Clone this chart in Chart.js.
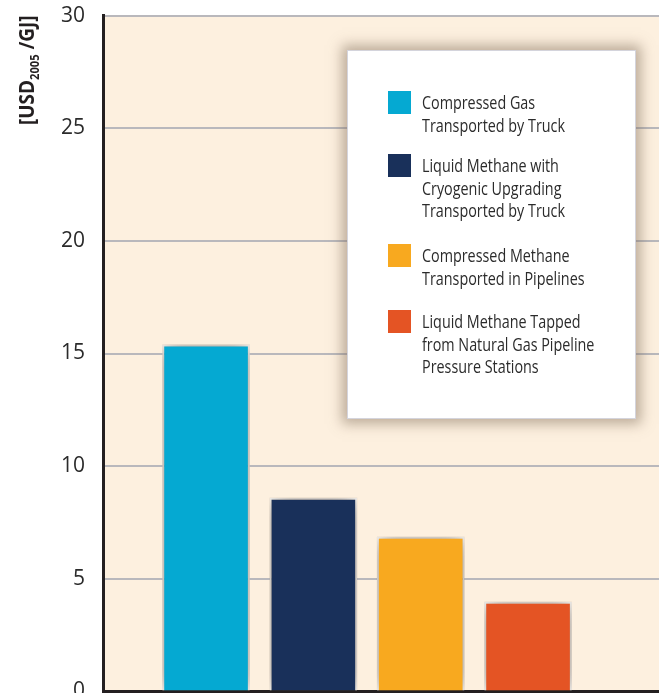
<!DOCTYPE html>
<html>
<head>
<meta charset="utf-8">
<script src="https://cdn.jsdelivr.net/npm/chart.js@4.4.1/dist/chart.umd.min.js"></script>
<style>
    html, body { margin: 0; padding: 0; background: #fff; overflow: hidden; }
    #wrap { position: relative; width: 659px; height: 693px; overflow: hidden; }
    #chart { position: absolute; left: 0; top: -15px; }
    #legend {
        position: absolute; left: 347px; top: 50px; width: 287px; height: 367px;
        background: #fff; border: 1px solid #d4d4dc;
        box-shadow: 0 0 12px 5px rgba(125, 105, 85, 0.5);
        font-family: 'Open Sans', sans-serif;
        font-size: 17.5px; line-height: 22.5px; color: #2b2b2b;
    }
    .item { position: absolute; left: 40px; }
    .swatch { position: absolute; left: 0; top: 0; width: 23px; height: 23px; }
    .text { position: absolute; left: 34px; top: 0; white-space: nowrap;
            transform: scaleX(0.82); transform-origin: 0 0; }
</style>
</head>
<body>
<div id="wrap">
    <canvas id="chart" width="659" height="737"></canvas>
    <div id="legend"></div>
</div>
<script>
// Chart data
const categories = [
    ['Compressed Gas', 'Transported by Truck'],
    ['Liquid Methane with', 'Cryogenic Upgrading', 'Transported by Truck'],
    ['Compressed Methane', 'Transported in Pipelines'],
    ['Liquid Methane Tapped', 'from Natural Gas Pipeline', 'Pressure Stations']
];
const costs = [15.4, 8.6, 6.87, 3.98];
const barColors = ['#05a9d2', '#19305a', '#f8a91f', '#e45424'];
const yTicks = [0, 5, 10, 15, 20, 25, 30];

// Legend box (html overlay)
const legendTops = [40, 103, 193, 259];
const legendEl = document.getElementById('legend');
categories.forEach(function(lines, i) {
    const item = document.createElement('div');
    item.className = 'item';
    item.style.top = legendTops[i] + 'px';
    item.innerHTML = '<div class="swatch" style="background:' + barColors[i] + '"></div>' +
        '<div class="text">' + lines.join('<br>') + '</div>';
    legendEl.appendChild(item);
});

// Cream plot background
const plotBackground = {
    id: 'plotBackground',
    beforeDraw: function(chart) {
        const a = chart.chartArea;
        const ctx = chart.ctx;
        ctx.save();
        ctx.fillStyle = '#fdf0df';
        ctx.fillRect(a.left, a.top, chart.width - a.left, a.bottom - a.top);
        ctx.restore();
    }
};

// Soft shadow under bars
const barShadow = {
    id: 'barShadow',
    beforeDatasetsDraw: function(chart) {
        const ctx = chart.ctx;
        ctx.save();
        ctx.shadowColor = 'rgba(95, 75, 55, 0.7)';
        ctx.shadowBlur = 20;
    },
    afterDatasetsDraw: function(chart) {
        chart.ctx.restore();
    }
};

// Rotated unit title with subscript
const unitTitle = {
    id: 'unitTitle',
    afterDraw: function(chart) {
        const ctx = chart.ctx;
        const big = 'bold 22px "Open Sans", sans-serif';
        const small = 'bold 13px "Open Sans", sans-serif';
        ctx.save();
        ctx.translate(34, 125 + 15);
        ctx.rotate(-Math.PI / 2);
        ctx.scale(0.86, 1);
        ctx.fillStyle = '#231f20';
        ctx.textBaseline = 'alphabetic';
        ctx.font = big;
        let x = 0;
        ctx.fillText('[USD', x, 0);
        x += ctx.measureText('[USD').width;
        ctx.font = small;
        ctx.fillText('2005', x, 5);
        x += ctx.measureText('2005').width;
        ctx.font = big;
        ctx.fillText(' /GJ]', x, 0);
        ctx.restore();
    }
};

const ctx = document.getElementById('chart').getContext('2d');
new Chart(ctx, {
    type: 'bar',
    data: {
        datasets: [{
            data: costs.map(function(v, i) { return { x: i + 1, y: v }; }),
            backgroundColor: barColors,
            borderColor: '#ffffff',
            borderWidth: 2,
            borderSkipped: 'bottom',
            barPercentage: 0.85,
            categoryPercentage: 1
        }]
    },
    options: {
        responsive: false,
        animation: false,
        layout: { padding: 0 },
        plugins: {
            legend: { display: false },
            tooltip: { enabled: false }
        },
        scales: {
            x: {
                type: 'linear',
                offset: false,
                min: 0.04,
                max: 5.22,
                grid: { display: false, drawTicks: false },
                ticks: { display: false },
                border: { color: '#231f20', width: 3 }
            },
            y: {
                min: 0,
                max: 30,
                afterBuildTicks: function(scale) {
                    scale.ticks = yTicks.map(function(v) { return { value: v }; });
                },
                afterFit: function(scale) { scale.width = 103; },
                grid: { color: '#b9b8bc', lineWidth: 2, drawTicks: false },
                border: { color: '#231f20', width: 3 },
                ticks: {
                    padding: 18,
                    color: '#2b2b2b',
                    font: { family: "'Open Sans', sans-serif", size: 21 }
                }
            }
        }
    },
    plugins: [plotBackground, barShadow, unitTitle]
});
</script>
</body>
</html>
